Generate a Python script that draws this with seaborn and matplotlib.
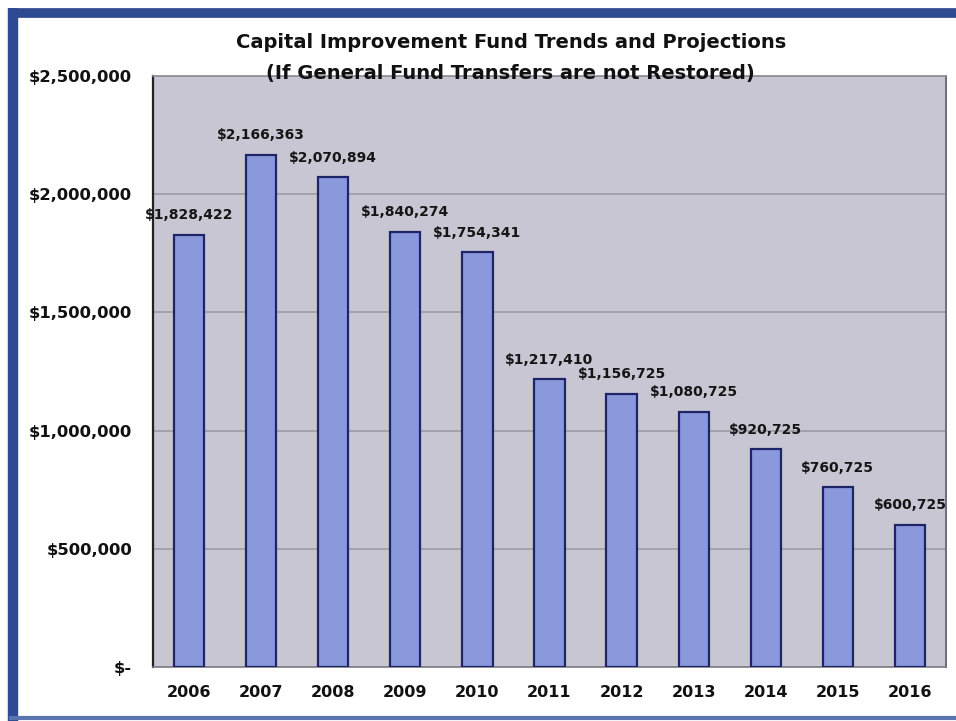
import matplotlib
matplotlib.use("Agg")
import matplotlib.pyplot as plt
from matplotlib.lines import Line2D
from matplotlib.ticker import FuncFormatter
import pandas as pd
import seaborn as sns

# Fund balance by fiscal year
years = ["2006", "2007", "2008", "2009", "2010", "2011",
         "2012", "2013", "2014", "2015", "2016"]
balances = [1828422, 2166363, 2070894, 1840274, 1754341, 1217410,
            1156725, 1080725, 920725, 760725, 600725]
y_ticks = [0, 500000, 1000000, 1500000, 2000000, 2500000]

title_lines = ["Capital Improvement Fund Trends and Projections",
               "(If General Fund Transfers are not Restored)"]

df = pd.DataFrame({"year": years, "balance": balances})

sns.set_theme(style="white")
plt.rcParams["font.family"] = ["DejaVu Sans"]

fig = plt.figure(figsize=(9.56, 7.21), dpi=100)
fig.patch.set_facecolor("white")
ax = fig.add_axes([153 / 956, 1 - 667 / 721, 793 / 956, 591 / 721])
ax.set_facecolor("#c9c6d3")

sns.barplot(data=df, x="year", y="balance", ax=ax, color="#8a99dc",
            saturation=1, width=0.42, edgecolor="#1e2466", linewidth=1.6,
            zorder=3)

ax.set_ylim(0, 2500000)
ax.set_xlim(-0.5, len(years) - 0.5)
ax.set_yticks(y_ticks)
ax.yaxis.set_major_formatter(
    FuncFormatter(lambda v, _: "$-" if v == 0 else f"${v:,.0f}"))
ax.grid(axis="y", color="#a19fab", linewidth=1.3, zorder=0)
ax.set_axisbelow(True)
ax.set_xlabel("")
ax.set_ylabel("")
ax.tick_params(axis="y", length=0, pad=15, labelsize=11.8)
ax.tick_params(axis="x", length=0, pad=13, labelsize=11.5)
for lbl in ax.get_xticklabels() + ax.get_yticklabels():
    lbl.set_fontweight("bold")
    lbl.set_color("#111111")

for side, col, lw in [("left", "#222222", 1.6), ("bottom", "#7d7b85", 1.2),
                      ("right", "#6f6d77", 1.4), ("top", "#8e8c96", 1.2)]:
    ax.spines[side].set_visible(True)
    ax.spines[side].set_color(col)
    ax.spines[side].set_linewidth(lw)

ax.bar_label(ax.containers[0], labels=[f"${v:,}" for v in balances],
             padding=9, fontsize=10, fontweight="bold", color="#151515")

fig.text(511 / 956, 1 - 43 / 721, title_lines[0], ha="center", va="center",
         fontsize=14, fontweight="bold", color="#111111")
fig.text(510 / 956, 1 - 74 / 721, title_lines[1], ha="center", va="center",
         fontsize=14, fontweight="bold", color="#111111", zorder=5)

# Blue frame around the chart
frame = "#2e4a92"
fig.add_artist(Line2D([13 / 956, 13 / 956], [1 - 8 / 721, 1 - 721 / 721],
                      transform=fig.transFigure, color=frame, linewidth=7.5,
                      solid_capstyle="butt"))
fig.add_artist(Line2D([9 / 956, 1.0], [1 - 12.5 / 721, 1 - 12.5 / 721],
                      transform=fig.transFigure, color=frame, linewidth=7,
                      solid_capstyle="butt"))
fig.add_artist(Line2D([9 / 956, 1.0], [1 - 718 / 721, 1 - 718 / 721],
                      transform=fig.transFigure, color="#5a74b0", linewidth=3,
                      solid_capstyle="butt"))

fig.savefig("out.png", dpi=100)
